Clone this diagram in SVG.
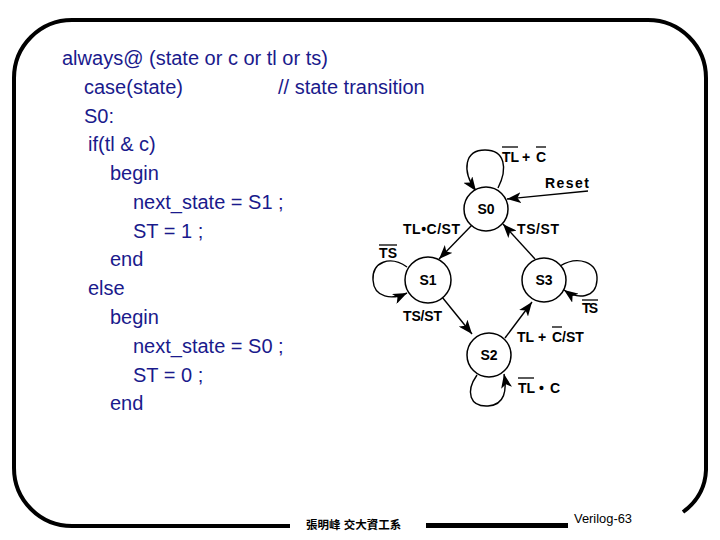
<svg xmlns="http://www.w3.org/2000/svg" width="720" height="540" viewBox="0 0 720 540">
<defs>
<marker id="ah" markerWidth="15" markerHeight="11" refX="14" refY="5.5" orient="auto" markerUnits="userSpaceOnUse">
<path d="M0,0 L14,5.5 L0,11 L3.5,5.5 z" fill="#000"/>
</marker>
<style>
.code{font-family:"Liberation Sans",Arial,sans-serif;font-size:20px;fill:#1a1a8c}
.lbl{font-family:"Liberation Sans",Arial,sans-serif;font-size:14px;font-weight:bold;fill:#000}
.st{font-family:"Liberation Sans",Arial,sans-serif;font-size:14px;font-weight:bold;fill:#000;text-anchor:middle}
.node{fill:#fff;stroke:#000;stroke-width:1.5}
.edge{fill:none;stroke:#000;stroke-width:1.4;marker-end:url(#ah)}
.bar{stroke:#000;stroke-width:1.3}
.frame{fill:none;stroke:#000;stroke-width:4}
</style>
</defs>
<rect width="720" height="540" fill="#fff"/>
<path class="frame" d="M290,526 L72,526 A58,58 0 0 1 14,468 L14,78 A58,58 0 0 1 72,20 L648,20 A58,58 0 0 1 706,78 L706,470 Q705,496 683,512"/>
<line x1="426" y1="525.5" x2="568" y2="525.5" stroke="#000" stroke-width="5"/>
<text x="306" y="529" font-family="'Liberation Sans','Noto Sans CJK TC',sans-serif" font-size="11.5" font-weight="bold">張明峰 交大資工系</text>
<text x="574" y="523" font-family="'Liberation Sans',Arial,sans-serif" font-size="12.7" textLength="58" lengthAdjust="spacingAndGlyphs">Verilog-63</text>

<g id="code">
<text class="code" x="62" y="65">always@ (state or c or tl or ts)</text>
<text class="code" x="84" y="94">case(state)</text>
<text class="code" x="278" y="94">// state transition</text>
<text class="code" x="84" y="123">S0:</text>
<text class="code" x="88" y="151">if(tl &amp; c)</text>
<text class="code" x="110" y="180">begin</text>
<text class="code" x="133" y="209">next_state = S1 ;</text>
<text class="code" x="133" y="238">ST = 1 ;</text>
<text class="code" x="110" y="266">end</text>
<text class="code" x="88" y="295">else</text>
<text class="code" x="110" y="324">begin</text>
<text class="code" x="133" y="353">next_state = S0 ;</text>
<text class="code" x="133" y="382">ST = 0 ;</text>
<text class="code" x="110" y="410">end</text>
</g>

<g id="connectors">
<path class="edge" d="M498,188 C508,168 505,150 485,150 C465,150 461,170 476,191"/>
<line class="edge" x1="588" y1="191" x2="507" y2="199"/>
<line class="edge" x1="472" y1="225" x2="439" y2="259"/>
<line class="edge" x1="535" y1="259" x2="503" y2="224"/>
<path class="edge" d="M407,267 C390,255 372,262 373,280 C374,298 392,300 407,293"/>
<line class="edge" x1="442" y1="297" x2="472" y2="334"/>
<path class="edge" d="M560,266 C578,255 598,262 597,280 C596,298 578,300 564,290"/>
<line class="edge" x1="505" y1="338" x2="532" y2="302"/>
<path class="edge" d="M477,375 C465,392 470,407 488,406 C505,405 507,390 504,374"/>
</g>

<g id="labels">
<text class="lbl" y="162"><tspan x="502">TL</tspan><tspan x="522">+</tspan><tspan x="536">C</tspan></text>
<line class="bar" x1="502" y1="147" x2="518" y2="147"/>
<line class="bar" x1="536" y1="147" x2="546" y2="147"/>
<text class="lbl" x="545" y="188" textLength="44">Reset</text>
<text class="lbl" x="403" y="234" textLength="57">TL•C/ST</text>
<text class="lbl" x="517" y="234" textLength="42">TS/ST</text>
<text class="lbl" x="379" y="258" textLength="18">TS</text>
<line class="bar" x1="379" y1="245" x2="397" y2="245"/>
<text class="lbl" x="403" y="321" textLength="39">TS/ST</text>
<text class="lbl" x="582" y="313" textLength="16">TS</text>
<line class="bar" x1="582" y1="300" x2="598" y2="300"/>
<text class="lbl" y="342"><tspan x="517">TL</tspan><tspan x="538">+</tspan><tspan x="552">C/ST</tspan></text>
<line class="bar" x1="552" y1="327" x2="562" y2="327"/>
<text class="lbl" y="393"><tspan x="518">TL</tspan><tspan x="539">•</tspan><tspan x="550">C</tspan></text>
<line class="bar" x1="518" y1="378" x2="534" y2="378"/>
</g>

<g id="S0"><circle class="node" cx="486" cy="209" r="22"/><text class="st" x="486" y="214">S0</text></g>
<g id="S1"><circle class="node" cx="428" cy="280" r="23"/><text class="st" x="428" y="285">S1</text></g>
<g id="S3"><circle class="node" cx="544" cy="280" r="22"/><text class="st" x="544" y="285">S3</text></g>
<g id="S2"><circle class="node" cx="489" cy="355" r="22"/><text class="st" x="489" y="360">S2</text></g>
</svg>
